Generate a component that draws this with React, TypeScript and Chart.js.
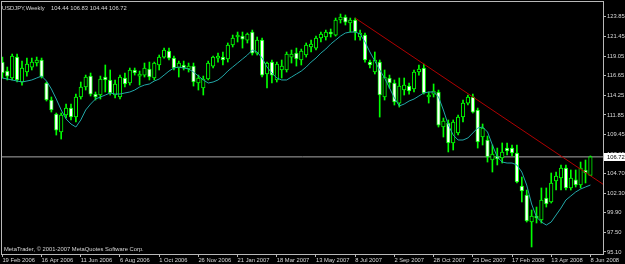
import React, { useEffect, useRef } from 'react';
import { Chart, registerables } from 'chart.js';

Chart.register(...registerables);

const dateLabels = ['19 Feb 2006', '16 Apr 2006', '11 Jun 2006', '6 Aug 2006', '1 Oct 2006', '26 Nov 2006', '21 Jan 2007', '18 Mar 2007', '13 May 2007', '8 Jul 2007', '2 Sep 2007', '28 Oct 2007', '23 Dec 2007', '17 Feb 2008', '13 Apr 2008', '8 Jun 2008'];
const dateTickIdx = [0, 8, 16, 24, 32, 40, 48, 56, 64, 72, 80, 88, 96, 104, 112, 120];
const priceTicks = [123.85, 121.45, 119.05, 116.65, 114.25, 111.85, 109.45, 107.05, 104.7, 102.3, 99.9, 97.5, 95.1];

const opens = [
  118.31, 117.21, 116.36, 118.92, 115.87, 117.09, 117.70, 118.19, 118.56, 115.75,
  113.67, 111.96, 109.76, 111.84, 112.69, 111.59, 114.04, 115.26, 116.60, 114.40,
  114.28, 116.48, 116.12, 114.28, 114.04, 116.36, 115.75, 117.34, 116.60, 116.72,
  117.46, 116.36, 117.95, 118.92, 119.66, 118.80, 117.58, 117.95, 117.46, 117.82,
  115.75, 115.14, 116.24, 117.82, 118.80, 118.92, 118.68, 120.39, 121.37, 121.49,
  121.00, 121.98, 119.41, 121.00, 116.85, 118.31, 116.12, 117.34, 117.34, 118.92,
  119.41, 118.56, 119.17, 120.15, 120.02, 121.25, 121.37, 121.98, 121.61, 123.45,
  123.81, 123.08, 123.45, 121.37, 121.61, 118.31, 117.09, 118.31, 114.04, 116.36,
  115.75, 113.30, 114.89, 115.38, 115.02, 117.09, 117.58, 114.04, 114.40, 114.65,
  110.37, 110.86, 108.42, 109.64, 111.59, 113.30, 114.04, 112.45, 109.15, 108.78,
  106.34, 106.83, 106.58, 107.80, 107.80, 107.19, 103.16, 102.06, 98.76, 99.49,
  99.01, 101.69, 101.21, 103.77, 104.14, 105.36, 102.92, 103.90, 103.28, 105.12,
  104.44,
];
const highs = [
  118.92, 117.70, 119.29, 119.29, 118.43, 118.80, 118.80, 118.92, 118.80, 115.87,
  114.04, 112.08, 112.08, 113.18, 113.18, 114.40, 115.87, 116.72, 116.97, 114.65,
  116.60, 117.95, 117.34, 116.12, 116.72, 116.97, 117.58, 117.58, 117.21, 118.19,
  118.31, 118.31, 119.17, 120.02, 120.02, 119.05, 118.43, 118.43, 118.19, 118.19,
  116.72, 116.60, 118.43, 119.05, 119.41, 119.54, 120.64, 121.61, 121.98, 121.98,
  121.86, 122.22, 121.37, 121.25, 118.31, 118.56, 118.31, 118.56, 119.54, 119.78,
  120.02, 119.90, 120.64, 121.00, 121.49, 121.98, 122.22, 122.35, 123.69, 124.18,
  124.06, 123.69, 123.69, 122.22, 121.86, 118.56, 119.54, 118.56, 117.34, 116.72,
  116.12, 116.36, 116.36, 115.75, 117.34, 117.95, 118.07, 114.65, 115.63, 114.89,
  111.47, 111.23, 111.23, 111.84, 113.67, 114.28, 114.40, 112.69, 110.74, 109.27,
  108.17, 107.80, 108.42, 108.42, 108.17, 108.17, 104.26, 102.67, 100.23, 100.59,
  102.92, 102.92, 104.75, 104.87, 105.73, 105.73, 105.12, 105.12, 106.09, 106.34,
  106.83,
];
const lows = [
  116.36, 116.12, 116.12, 115.87, 115.50, 116.60, 117.34, 117.82, 116.36, 113.55,
  112.20, 109.39, 108.90, 111.47, 111.23, 110.98, 113.79, 114.89, 114.16, 113.67,
  113.79, 114.65, 114.28, 113.92, 113.79, 115.26, 115.50, 116.72, 115.50, 116.48,
  116.12, 116.12, 117.34, 118.80, 118.56, 117.34, 116.48, 117.34, 117.09, 115.38,
  114.89, 114.28, 116.12, 117.58, 118.31, 117.95, 118.31, 120.15, 120.76, 120.02,
  120.64, 119.17, 119.17, 116.48, 115.14, 115.75, 115.87, 116.36, 117.09, 118.19,
  117.82, 117.95, 118.92, 119.54, 119.78, 120.76, 121.00, 121.37, 121.49, 123.08,
  122.84, 121.98, 121.00, 121.00, 118.31, 117.58, 116.85, 111.59, 113.67, 115.14,
  113.06, 112.81, 114.28, 114.40, 114.65, 116.72, 114.40, 113.30, 114.04, 110.37,
  109.15, 107.32, 107.56, 109.39, 110.98, 113.06, 112.08, 107.80, 108.17, 106.09,
  104.87, 105.73, 105.97, 106.95, 106.83, 103.53, 101.21, 98.76, 95.71, 98.64,
  98.64, 100.59, 101.08, 102.67, 102.67, 102.67, 102.67, 103.04, 102.92, 103.53,
  104.44,
];
const closes = [
  116.97, 116.60, 119.05, 116.12, 117.58, 118.07, 118.31, 118.56, 116.48, 113.67,
  112.45, 110.00, 111.84, 112.69, 111.59, 114.04, 115.26, 116.48, 114.40, 114.04,
  116.24, 116.12, 114.53, 115.63, 116.48, 115.63, 117.34, 116.97, 116.85, 117.58,
  116.48, 118.19, 118.92, 119.78, 118.80, 117.58, 118.19, 117.58, 117.82, 115.87,
  116.36, 116.24, 118.19, 118.92, 119.05, 118.56, 120.39, 121.25, 121.61, 121.12,
  121.74, 119.41, 121.00, 116.72, 118.19, 116.72, 118.07, 117.82, 119.29, 119.29,
  118.68, 119.66, 120.39, 120.51, 121.25, 121.74, 121.98, 121.74, 123.45, 123.81,
  123.20, 123.45, 121.98, 121.86, 118.56, 117.95, 118.56, 114.28, 116.48, 115.75,
  113.43, 115.38, 115.50, 114.77, 117.09, 117.46, 114.53, 114.28, 114.77, 110.61,
  111.10, 108.42, 110.98, 111.59, 113.30, 114.04, 112.20, 108.54, 110.25, 106.71,
  107.07, 106.46, 107.32, 107.44, 107.19, 103.65, 102.55, 98.88, 99.49, 99.25,
  101.45, 100.96, 103.53, 104.38, 105.36, 102.92, 104.14, 103.28, 105.36, 104.75,
  106.72,
];
const maValues = [
  116.36, 116.24, 116.12, 115.99, 115.87, 115.99, 116.12, 116.36, 116.60, 115.99,
  115.02, 113.79, 112.45, 111.35, 110.74, 110.37, 111.23, 112.45, 113.18, 113.79,
  114.04, 114.28, 114.53, 114.40, 114.40, 114.53, 114.65, 114.89, 115.26, 115.50,
  115.63, 115.99, 116.24, 116.72, 117.21, 117.58, 117.70, 117.58, 117.46, 117.09,
  116.60, 116.12, 115.75, 115.87, 116.12, 116.60, 117.21, 117.70, 118.19, 118.68,
  119.17, 119.78, 119.54, 118.80, 117.70, 116.97, 116.36, 116.12, 116.12, 116.48,
  116.85, 117.21, 117.70, 118.31, 118.80, 119.41, 119.90, 120.51, 121.00, 121.49,
  121.86, 121.98, 121.98, 121.74, 120.76, 119.54, 118.43, 117.34, 116.36, 115.14,
  113.92, 112.94, 113.18, 113.55, 113.79, 114.16, 114.53, 114.65, 114.65, 114.04,
  112.45, 110.61, 109.39, 108.78, 108.78, 109.03, 109.64, 110.25, 110.37, 109.76,
  108.17, 106.71, 106.09, 105.97, 105.97, 105.73, 104.87, 103.28, 100.96, 99.37,
  98.76, 98.39, 98.76, 99.62, 100.47, 101.45, 101.94, 102.43, 102.79, 103.04,
  103.28,
];

const trendIdx = [72, 122.57];
const trendPrices = [123.69, 103.38];
const lastPrice = 106.72;
const symbolText = 'USDJPY,Weekly';
const quoteText = '104.44 106.83 104.44 106.72';
const copyrightText = 'MetaTrader, \u00A9 2001-2007 MetaQuotes Software Corp.';

const X_MIN = -0.08;
const X_MAX = 122.57;
const Y_MIN = 94.85;
const Y_MAX = 125.65;
const FONT = 'Liberation Sans';
const FS = 5.8;
const TEXT = '#d8d8d8';
const FRAME = '#b8b8b8';
const LIME = '#00ff00';

const mtPlugin = {
  id: 'mtDecor',
  beforeDraw(chart: any) {
    const { ctx, width, height } = chart;
    ctx.save();
    ctx.fillStyle = '#000000';
    ctx.fillRect(0, 0, width, height);
    ctx.restore();
  },
  afterDraw(chart: any) {
    const { ctx, chartArea } = chart;
    const { left, right, top, bottom } = chartArea;
    ctx.save();
    ctx.strokeStyle = FRAME;
    ctx.lineWidth = 1;
    ctx.strokeRect(left - 0.5, top - 0.5, right - left + 1, bottom - top + 1);

    ctx.font = `${FS}px "${FONT}"`;
    ctx.fillStyle = TEXT;
    ctx.textBaseline = 'alphabetic';
    ctx.textAlign = 'left';
    ctx.fillText(symbolText, 2, 9.5);
    ctx.fillText(quoteText, 51, 9.5);
    ctx.fillText(copyrightText, 4, 251);

    const yp = chart.scales.y.getPixelForValue(lastPrice);
    ctx.fillStyle = '#ffffff';
    ctx.fillRect(right + 1, Math.round(yp) - 4, 22, 8);
    ctx.fillStyle = '#000000';
    ctx.textBaseline = 'middle';
    ctx.fillText(lastPrice.toFixed(2), right + 4, Math.round(yp) + 0.5);
    ctx.restore();
  },
};

export default function App() {
  const canvasRef = useRef<HTMLCanvasElement | null>(null);

  useEffect(() => {
    const canvas = canvasRef.current;
    if (!canvas) return;

    const idx = opens.map((_, i) => i);
    const wickData = idx.map((i) => ({ x: i, y: [lows[i], highs[i]] }));
    const bodyData = idx.map((i) => ({ x: i, y: [opens[i], closes[i]] }));
    const bodyFill = idx.map((i) => (closes[i] >= opens[i] ? '#000000' : '#ffffff'));
    const maData = idx.map((i) => ({ x: i, y: maValues[i] }));
    const trendData = trendIdx.map((x, i) => ({ x, y: trendPrices[i] }));
    const lastLine = [
      { x: X_MIN, y: lastPrice },
      { x: X_MAX, y: lastPrice },
    ];

    const chart = new Chart(canvas, {
      type: 'bar',
      data: {
        datasets: [
          {
            type: 'line',
            data: lastLine,
            borderColor: '#a8a8a8',
            borderWidth: 1,
            pointRadius: 0,
            order: 6,
          } as any,
          {
            type: 'bar',
            data: wickData,
            backgroundColor: LIME,
            borderWidth: 0,
            barThickness: 1,
            grouped: false,
            order: 5,
          } as any,
          {
            type: 'bar',
            data: bodyData,
            backgroundColor: bodyFill,
            borderColor: LIME,
            borderWidth: 1,
            borderSkipped: false,
            barThickness: 3.6,
            grouped: false,
            order: 4,
          } as any,
          {
            type: 'line',
            data: maData,
            borderColor: '#22a8a8',
            borderWidth: 1,
            pointRadius: 0,
            tension: 0,
            order: 3,
          } as any,
          {
            type: 'line',
            data: trendData,
            borderColor: '#b00000',
            borderWidth: 1,
            pointRadius: 0,
            order: 2,
          } as any,
        ],
      },
      options: {
        animation: false,
        responsive: false,
        maintainAspectRatio: false,
        events: [],
        layout: { padding: { left: 2, top: 2, right: 0, bottom: 0 } },
        plugins: { legend: { display: false }, tooltip: { enabled: false } },
        scales: {
          x: {
            type: 'linear',
            offset: false,
            min: X_MIN,
            max: X_MAX,
            afterBuildTicks: (s: any) => {
              s.ticks = dateTickIdx.map((v) => ({ value: v }));
            },
            afterFit: (s: any) => {
              s.height = 10;
              s.paddingLeft = 0;
              s.paddingRight = 0;
            },
            ticks: {
              autoSkip: false,
              maxRotation: 0,
              minRotation: 0,
              align: 'start',
              padding: 0,
              color: TEXT,
              font: { family: FONT, size: FS },
              callback: (_v: any, i: number) => dateLabels[i],
            },
            grid: { offset: false, drawOnChartArea: false, drawTicks: true, tickLength: 3, color: FRAME },
            border: { display: false },
          },
          y: {
            type: 'linear',
            position: 'right',
            min: Y_MIN,
            max: Y_MAX,
            afterBuildTicks: (s: any) => {
              s.ticks = priceTicks.map((v) => ({ value: v }));
            },
            afterFit: (s: any) => {
              s.width = 22;
              s.paddingTop = 0;
              s.paddingBottom = 0;
            },
            ticks: {
              autoSkip: false,
              padding: 1,
              color: TEXT,
              font: { family: FONT, size: FS },
              callback: (v: any) => Number(v).toFixed(2),
            },
            grid: { drawOnChartArea: false, drawTicks: true, tickLength: 3, color: FRAME },
            border: { display: false },
          },
        },
      } as any,
      plugins: [mtPlugin],
    });

    return () => chart.destroy();
  }, []);

  return (
    <div style={{ position: 'fixed', left: 0, top: 0, width: 625, height: 264, background: '#000' }}>
      <canvas ref={canvasRef} width={625} height={264} style={{ display: 'block', width: 625, height: 264 }} />
    </div>
  );
}
